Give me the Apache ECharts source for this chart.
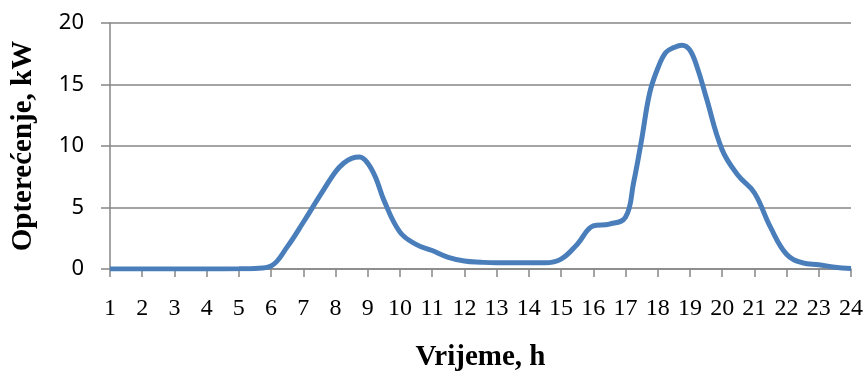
<!DOCTYPE html>
<html>
<head>
<meta charset="utf-8">
<script src="https://cdn.jsdelivr.net/npm/echarts@6/dist/echarts.min.js"></script>
<style>
html,body{margin:0;padding:0;background:#fff;}
#chart{width:866px;height:376px;}
</style>
</head>
<body>
<div id="chart"></div>
<script>
var hours = [1,2,3,4,5,5.5,6,6.5,7,7.5,8,8.25,8.5,8.75,9,9.25,9.5,10,10.5,11,11.5,12,12.5,13,13.5,14,14.5,15,15.5,16,16.5,17,17.25,17.5,17.75,18,18.25,18.5,18.75,19,19.25,19.5,20,20.5,21,21.5,22,22.5,23,23.5,24];
var load = [0,0,0,0,0.02,0.05,0.25,1.8,3.8,5.9,7.9,8.6,9.0,9.1,8.6,7.4,5.6,3.0,2.0,1.5,0.95,0.65,0.55,0.5,0.5,0.5,0.5,0.8,2.0,3.5,3.65,4.2,7.0,10.5,14.3,16.3,17.6,18.0,18.2,17.8,16.2,14.0,9.7,7.6,6.2,3.4,1.2,0.5,0.35,0.15,0.05];
var yTicks = [0,5,10,15,20];
var xLabel = 'Vrijeme, h';
var yLabel = 'Opterećenje, kW';

var data = hours.map(function(h,i){return [h, load[i]];});
var chart = echarts.init(document.getElementById('chart'));
chart.setOption({
  animation:false,
  grid:{left:110,right:15,top:23,bottom:107,containLabel:false,outerBoundsMode:'none'},
  xAxis:{
    type:'value',min:1,max:24,interval:1,
    name:xLabel,nameLocation:'middle',nameGap:74,
    nameTextStyle:{fontFamily:'Liberation Serif',fontWeight:'bold',fontSize:29,color:'#000'},
    axisLine:{show:true,lineStyle:{color:'#868686',width:1.5}},
    axisTick:{show:true,length:8,lineStyle:{color:'#868686',width:1.5}},
    axisLabel:{margin:28,fontFamily:'Liberation Serif',fontSize:24,color:'#000'},
    splitLine:{show:false}
  },
  yAxis:{
    type:'value',min:yTicks[0],max:yTicks[yTicks.length-1],interval:5,
    name:yLabel,nameLocation:'middle',nameGap:72,nameRotate:90,
    nameTextStyle:{fontFamily:'Liberation Serif',fontWeight:'bold',fontSize:29,color:'#000'},
    axisLine:{show:true,lineStyle:{color:'#868686',width:1.5}},
    axisTick:{show:true,length:9,lineStyle:{color:'#868686',width:1.5}},
    axisLabel:{margin:26,fontFamily:'Noto Sans',fontSize:22,color:'#000'},
    splitLine:{show:true,lineStyle:{color:'#868686',width:1.5}}
  },
  series:[{
    type:'line',data:data,smooth:0.4,showSymbol:false,symbol:'none',
    lineStyle:{color:'#4a7ebb',width:5},
    itemStyle:{color:'#4a7ebb'}
  }]
});
</script>
</body>
</html>
